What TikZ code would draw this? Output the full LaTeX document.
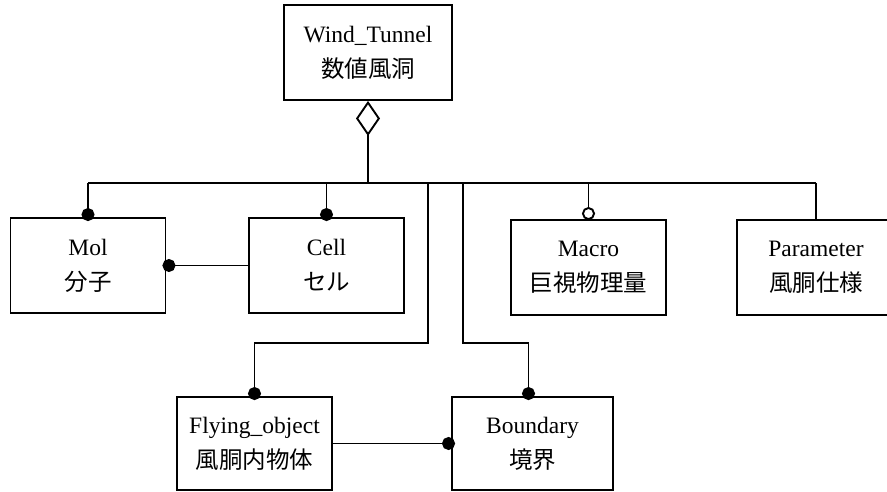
\documentclass[tikz,border=0pt]{standalone}
\usepackage{fontspec}
\setmainfont{Liberation Serif}
\newfontfamily\jp{Noto Sans CJK JP}
\usetikzlibrary{arrows.meta}

\begin{document}
\begin{tikzpicture}[x=1pt,y=-1pt,line width=1.9pt,
    cls/.style={draw,fill=white,minimum width=155pt,minimum height=95pt,
                inner sep=0pt,align=center,font=\fontsize{23.5}{35}\selectfont},
    has/.style={-{Circle[length=13pt]},shorten >=-4pt},
    opt/.style={-{Circle[open,length=13pt,fill=white]},shorten >=-1pt},
    whole/.style={{Diamond[open,length=35pt,width=24pt]}-}]
    \useasboundingbox (0,0) rectangle (887,492);
    \clip (0,0) rectangle (887,492);
    \node[cls] (wind) [minimum width=168pt] at (368,52.5) {Wind\_Tunnel\\{\jp 数値風洞}};
    \node[cls] (mol) at (88,265.5) {Mol\\{\jp 分子}};
    \node[cls] (cell) at (326.5,265.5) {Cell\\{\jp セル}};
    \node[cls] (macro) at (588.5,267.5) {Macro\\{\jp 巨視物理量}};
    \node[cls] (param) [minimum width=158pt] at (816,267.5) {Parameter\\{\jp 風胴仕様}};
    \node[cls] (fly) [minimum height=93pt] at (254.5,443.5) {Flying\_object\\{\jp 風胴内物体}};
    \node[cls] (bnd) [minimum width=161pt,minimum height=93pt] at (532.5,443.5) {Boundary\\{\jp 境界}};
    % bus under Wind_Tunnel
    \coordinate (busL) at (88,183);
    \coordinate (busR) at (816,183);
    \draw (busL) -- (busR);
    \draw[whole] (wind.south) -- (wind.south |- busL);
    \draw[has] (busL) -- (mol.north);
    \draw[has] (cell.north |- busL) -- (cell.north);
    \draw[opt] (macro.north |- busL) -- (macro.north);
    \draw (busR) -- (param.north);
    \draw[has] (428,183) -- ++(0,160) -| (fly.north);
    \draw[has] (463,183) -- ++(0,160) -| ([xshift=-4pt]bnd.north);
    % links between parts
    \draw[has] (cell.west) -- (mol.east);
    \draw[has] (fly.east) -- (bnd.west);
\end{tikzpicture}
\end{document}
